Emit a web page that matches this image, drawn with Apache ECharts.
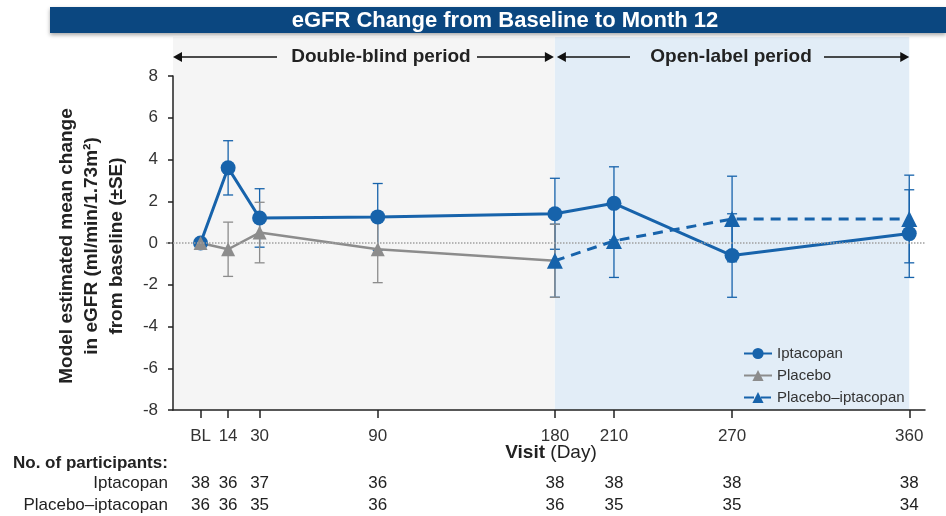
<!DOCTYPE html>
<html>
<head>
<meta charset="utf-8">
<script src="https://cdn.jsdelivr.net/npm/echarts@6/dist/echarts.min.js"></script>
<style>
html, body { margin: 0; padding: 0; background: #fff; }
#main { width: 946px; height: 516px; }
</style>
</head>
<body>
<div id="main"></div>
<script>
// visit days (BL = day 0) and their tick labels
var days = [0, 14, 30, 90, 180, 210, 270, 360];
var tickLabels = ['BL', '14', '30', '90', '180', '210', '270', '360'];

// Iptacopan
var iptaMean = [0, 3.6, 1.2, 1.25, 1.4, 1.9, -0.6, 0.45];
var iptaSE = [0, 1.3, 1.4, 1.6, 1.7, 1.75, 2.0, 2.1];

// Placebo (double-blind period)
var placeboDays = [0, 14, 30, 90, 180];
var placeboMean = [0, -0.3, 0.5, -0.3, -0.85];
var placeboSE = [0, 1.3, 1.45, 1.6, 1.75];

// Placebo–iptacopan (open-label period)
var plIptaDays = [180, 210, 270, 360];
var plIptaMean = [-0.85, 0.1, 1.15, 1.15];
var plIptaSE = [1.75, 1.75, 2.05, 2.1];

// number of participants
var iptaN = [38, 36, 37, 36, 38, 38, 38, 38];
var plIptaN = [36, 36, 35, 36, 36, 35, 35, 34];

var blue = '#1763ab';
var gray = '#8c8c8c';
var font = 'Liberation Sans, Arial, sans-serif';

var myChart = echarts.init(document.getElementById('main'));

function pts(xs, ys) {
	return xs.map(function (d, i) { return [d, ys[i]]; });
}
function errData(xs, m, se) {
	return xs.map(function (d, i) { return [d, m[i] - se[i], m[i] + se[i]]; });
}
function errSeries(name, data, color, z) {
	return {
		type: 'custom',
		name: name,
		data: data,
		z: z,
		silent: true,
		encode: { x: 0, y: [1, 2] },
		renderItem: function (params, api) {
			var x = api.value(0);
			var lo = api.coord([x, api.value(1)]);
			var hi = api.coord([x, api.value(2)]);
			if (lo[1] - hi[1] < 1) return;
			var w = 5;
			var st = { stroke: color, lineWidth: 1.3 };
			return {
				type: 'group',
				children: [
					{ type: 'line', shape: { x1: lo[0], y1: lo[1], x2: hi[0], y2: hi[1] }, style: st },
					{ type: 'line', shape: { x1: lo[0] - w, y1: lo[1], x2: lo[0] + w, y2: lo[1] }, style: st },
					{ type: 'line', shape: { x1: hi[0] - w, y1: hi[1], x2: hi[0] + w, y2: hi[1] }, style: st }
				]
			};
		}
	};
}

option = {
	animation: false,
	textStyle: { fontFamily: font },
	grid: { left: 173, right: 21, top: 76, bottom: 106 },
	legend: {
		orient: 'vertical',
		left: 738,
		top: 341,
		itemWidth: 28,
		itemHeight: 14,
		itemGap: 7,
		textStyle: { fontSize: 15, color: '#333', fontFamily: font },
		data: ['Iptacopan', 'Placebo', 'Placebo–iptacopan']
	},
	xAxis: {
		type: 'value',
		min: -14,
		max: 368,
		splitLine: { show: false },
		axisLine: { onZero: false, lineStyle: { color: '#222', width: 1.5 } },
		axisTick: { customValues: days, length: 8, lineStyle: { color: '#222', width: 1.5 } },
		axisLabel: {
			customValues: days,
			margin: 18,
			fontSize: 17,
			color: '#333',
			formatter: function (v) { return tickLabels[days.indexOf(v)]; }
		}
	},
	yAxis: {
		type: 'value',
		min: -8,
		max: 8,
		interval: 2,
		splitLine: { show: false },
		axisLine: { show: true, onZero: false, lineStyle: { color: '#222', width: 1.5 } },
		axisTick: { show: true, length: 5, lineStyle: { color: '#222', width: 1.5 } },
		axisLabel: { fontSize: 17, color: '#333', margin: 15 }
	},
	series: [
		errSeries('ipta-err', errData(days, iptaMean, iptaSE), blue, 2),
		errSeries('plipta-err', errData(plIptaDays, plIptaMean, plIptaSE), blue, 2),
		errSeries('placebo-err', errData(placeboDays, placeboMean, placeboSE), gray, 3),
		{
			name: 'Iptacopan',
			type: 'line',
			z: 4,
			data: pts(days, iptaMean),
			symbol: 'circle',
			symbolSize: 15,
			color: blue,
			lineStyle: { width: 3, color: blue }
		},
		{
			name: 'Placebo',
			type: 'line',
			z: 4,
			data: pts(placeboDays, placeboMean),
			symbol: 'triangle',
			symbolSize: 14,
			color: gray,
			lineStyle: { width: 2.5, color: gray },
			markLine: {
				silent: true,
				symbol: 'none',
				label: { show: false },
				lineStyle: { type: 'dotted', color: '#a0a0a0', width: 1.5 },
				data: [{ yAxis: 0 }]
			}
		},
		{
			name: 'Placebo–iptacopan',
			type: 'line',
			z: 5,
			data: pts(plIptaDays, plIptaMean),
			symbol: 'triangle',
			symbolSize: 16,
			color: blue,
			lineStyle: { width: 3, type: [10, 7], color: blue }
		}
	]
};

myChart.setOption(option);

function px(d) { return myChart.convertToPixel({ gridIndex: 0 }, [d, 0])[0]; }
var yBottom = myChart.convertToPixel({ gridIndex: 0 }, [0, -8])[1];
var yZero = myChart.convertToPixel({ gridIndex: 0 }, [0, 0])[1];
var x0 = px(-14), x180 = px(180), x360 = px(360);
var arrowY = 57;

function head(x, dir) {
	return {
		type: 'polygon',
		shape: { points: [[x, arrowY], [x - dir * 9, arrowY - 5], [x - dir * 9, arrowY + 5]] },
		style: { fill: '#111' },
		z: 10
	};
}
function seg(a, b) {
	return { type: 'line', shape: { x1: a, y1: arrowY, x2: b, y2: arrowY }, style: { stroke: '#111', lineWidth: 1.5 }, z: 10 };
}
function txt(x, y, s, extra) {
	var st = { text: s, x: x, y: y, fill: '#222', font: '17px ' + font, align: 'center', verticalAlign: 'middle' };
	for (var k in extra) st[k] = extra[k];
	return { type: 'text', style: st, z: 10 };
}

var g = [
	// shaded periods
	{ type: 'rect', shape: { x: x0, y: 37, width: x180 - x0, height: yBottom - 37 }, style: { fill: '#f5f5f5' }, z: -10 },
	{ type: 'rect', shape: { x: x180, y: 37, width: x360 - x180, height: yBottom - 37 }, style: { fill: '#e2edf7' }, z: -10 },
	// dotted zero line stub left of the axis
	{ type: 'line', shape: { x1: 166, y1: yZero, x2: x0, y2: yZero }, style: { stroke: '#a0a0a0', lineWidth: 1.5, lineDash: [2, 2] }, z: 1 },
	// title bar
	{ type: 'rect', shape: { x: 50, y: 7, width: 896, height: 26 }, style: { fill: '#0b4780', shadowBlur: 4, shadowColor: 'rgba(0,0,0,0.35)', shadowOffsetY: 2 }, z: 10 },
	txt(505, 20.5, 'eGFR Change from Baseline to Month 12', { fill: '#fff', font: 'bold 22px ' + font }),
	// period arrows
	head(x0, -1), seg(x0 + 4, 277),
	txt(381, arrowY, 'Double-blind period', { font: 'bold 19px ' + font }),
	seg(477, x180 - 3), head(x180 - 1, 1),
	head(x180 + 2, -1), seg(x180 + 5, 630),
	txt(731, arrowY, 'Open-label period', { font: 'bold 19px ' + font }),
	seg(824, x360 - 3), head(x360, 1),
	// y axis name
	{
		type: 'text', x: 92, y: 246, rotation: Math.PI / 2, z: 10,
		style: {
			text: 'Model estimated mean change\nin eGFR (ml/min/1.73m²)\nfrom baseline (±SE)',
			fill: '#222', font: 'bold 19px ' + font, align: 'center', verticalAlign: 'middle', lineHeight: 25
		}
	},
	// x axis name
	{
		type: 'text', z: 10,
		style: {
			text: '{b|Visit} (Day)', x: 551, y: 453, align: 'center', verticalAlign: 'middle',
			fill: '#222', font: '19px ' + font,
			rich: { b: { fontWeight: 'bold', fontSize: 19, fontFamily: font, fill: '#222' } }
		}
	},
	// participants table
	txt(13, 463, 'No. of participants:', { font: 'bold 17px ' + font, align: 'left' }),
	txt(168, 483, 'Iptacopan', { align: 'right' }),
	txt(168, 505, 'Placebo–iptacopan', { align: 'right' })
];
days.forEach(function (d, i) {
	g.push(txt(px(d), 483, String(iptaN[i])));
	g.push(txt(px(d), 505, String(plIptaN[i])));
});

myChart.setOption({ graphic: g });
window.onresize = myChart.resize;
</script>
</body>
</html>
